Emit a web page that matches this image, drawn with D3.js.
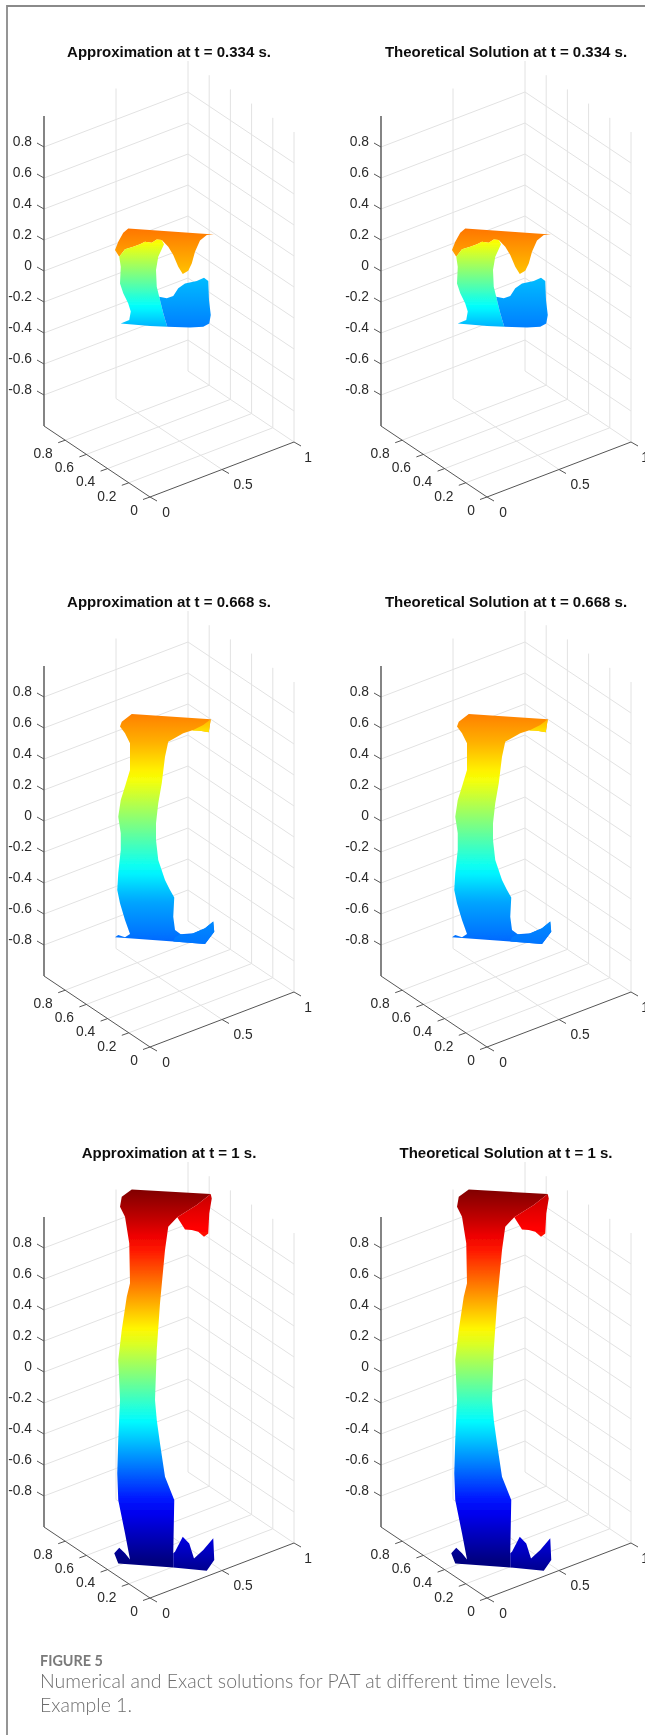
<!DOCTYPE html>
<html>
<head>
<meta charset="utf-8">
<script src="https://cdn.jsdelivr.net/npm/d3@7"></script>
<style>
  body { margin: 0; background: #fff; }
  svg { display: block; }
  text { font-family: "Liberation Sans", Arial, sans-serif; }
</style>
</head>
<body>
<svg id="chart" width="645" height="1735"></svg>
<script>
const leftTitles = ['Approximation at t = 0.334 s.', 'Approximation at t = 0.668 s.', 'Approximation at t = 1 s.'];
const rightTitles = ['Theoretical Solution at t = 0.334 s.', 'Theoretical Solution at t = 0.668 s.', 'Theoretical Solution at t = 1 s.'];
const zTicks = [-0.8, -0.6, -0.4, -0.2, 0, 0.2, 0.4, 0.6, 0.8];
const yTicks = [0, 0.2, 0.4, 0.6, 0.8];
const xTicks = [0, 0.5, 1];

// jet colormap, position on the color axis -> color
const jetPos = [0, 0.125, 0.375, 0.625, 0.875, 1];
const jetCol = ['#00007f', '#0000ff', '#00ffff', '#ffff00', '#ff0000', '#7f0000'];

// surface silhouettes: [h, z]
// h = position along the horizontal of the plot box (0..1), z = height on the z axis
const flapA = [[.337,.275],[.68,.236],[.651,.232],[.624,.196],[.604,.125],[.591,.049],[.577,.002],[.555,-.019],[.537,.028],[.517,.103],[.497,.157],[.471,.2],[.451,.204],[.431,.183],[.404,.189],[.384,.172],[.357,.157],[.324,.14],[.301,.092],[.284,.135],[.297,.189],[.317,.247]];
const flapAColor = [[.275,.76],[0,.69]];
const bodyA = [[.301,.092],[.324,.14],[.357,.157],[.384,.172],[.404,.189],[.431,.183],[.451,.204],[.471,.2],[.48,.172],[.457,.092],[.448,.006],[.451,-.101],[.464,-.187],[.477,-.273],[.493,-.359],[.424,-.355],[.307,-.338],[.341,-.316],[.347,-.262],[.337,-.209],[.317,-.144],[.304,-.08],[.307,.028]];
const bodyAColor = [[.2,.63],[-.23,.375],[-.36,.3]];
const lowA = [[.461,-.166],[.491,-.176],[.517,-.161],[.537,-.112],[.564,-.08],[.611,-.065],[.64,-.043],[.657,-.065],[.66,-.187],[.667,-.284],[.661,-.338],[.637,-.359],[.584,-.364],[.493,-.359],[.477,-.273],[.464,-.187]];
const lowAColor = [[-.04,.31],[-.36,.25]];

const bodyB = [[.351,.691],[.667,.656],[.659,.572],[.624,.583],[.597,.587],[.557,.566],[.497,.512],[.484,.415],[.471,.243],[.457,.114],[.448,-.015],[.448,-.122],[.457,-.251],[.484,-.38],[.504,-.445],[.521,-.494],[.517,-.617],[.524,-.703],[.547,-.731],[.597,-.724],[.644,-.692],[.677,-.649],[.681,-.714],[.644,-.793],[.517,-.778],[.284,-.75],[.297,-.735],[.324,-.75],[.344,-.729],[.324,-.638],[.304,-.531],[.293,-.445],[.297,-.337],[.307,-.187],[.307,-.079],[.297,.028],[.307,.136],[.324,.222],[.344,.329],[.344,.501],[.324,.566],[.304,.609],[.311,.641]];
const bodyBColor = [[.691,.75],[.501,.7],[.286,.625],[-.316,.375],[-.509,.29],[-.767,.23]];
const tipB = [[.591,.583],[.637,.62],[.667,.656],[.659,.572],[.624,.583]];
const tipBColor = [[.656,.7],[.572,.65]];
const lowB = [[.524,-.75],[.547,-.731],[.577,-.739],[.644,-.692],[.677,-.649],[.681,-.714],[.644,-.793],[.517,-.778]];
const lowBColor = [[-.65,.26],[-.79,.24]];

const bodyC = [[.351,1.178],[.667,1.148],[.611,1.077],[.533,.998],[.497,.937],[.484,.787],[.464,.443],[.451,.142],[.444,-.181],[.451,-.31],[.464,-.461],[.484,-.676],[.521,-.826],[.517,-1.17],[.517,-1.261],[.297,-1.235],[.281,-1.17],[.301,-1.134],[.324,-1.17],[.344,-1.209],[.324,-1.041],[.297,-.826],[.293,-.654],[.297,-.439],[.304,-.181],[.297,.077],[.311,.271],[.331,.486],[.344,.572],[.341,.83],[.324,1.002],[.304,1.066],[.311,1.131]];
const bodyCColor = [[1.18,1],[1,.94],[.84,.875],[.26,.625],[-.31,.375],[-.87,.125],[-1.22,0]];
const topC = [[.667,1.148],[.671,1.12],[.661,1.023],[.657,.894],[.64,.873],[.617,.905],[.591,.916],[.564,.92],[.533,.998],[.611,1.077]];
const topCColor = [[1.148,.93],[.873,.86]];
const lowC = [[.517,-1.17],[.524,-1.159],[.555,-1.063],[.581,-1.106],[.6,-1.203],[.637,-1.149],[.677,-1.073],[.681,-1.213],[.651,-1.282],[.517,-1.261]];
const lowCColor = [[-1.06,.1],[-1.28,.015]];

const rowsSurf = [
  [[flapA, flapAColor], [bodyA, bodyAColor], [lowA, lowAColor]],
  [[bodyB, bodyBColor], [tipB, tipBColor], [lowB, lowBColor]],
  [[bodyC, bodyCColor], [topC, topCColor], [lowC, lowCColor]]
];

const rowY = [0, 550, 1101];
const colX = [0, 337];

const svg = d3.select('#chart');
const defs = svg.append('defs');

// the reference is a soft upscaled image
defs.append('filter')
  .attr('id', 'soft')
  .attr('filterUnits', 'userSpaceOnUse')
  .attr('x', 0).attr('y', 0)
  .attr('width', 645).attr('height', 1735)
  .append('feGaussianBlur')
  .attr('stdDeviation', 0.4);

const root = svg.append('g').attr('filter', 'url(#soft)');

const jet = d3.scaleLinear().domain(jetPos).range(jetCol);

// plot box scales, all in panel coordinates
const hS = d3.scaleLinear().domain([0, 1]).range([44, 294]);
const zS = d3.scaleLinear().domain([-1, 1]).range([426, 116]);
const xPx = d3.scaleLinear().domain([0, 1]).range([0, 144]);
const xPy = d3.scaleLinear().domain([0, 1]).range([0, -55]);
const yPx = d3.scaleLinear().domain([0, 1]).range([0, -106]);
const yPy = d3.scaleLinear().domain([0, 1]).range([0, -71]);

function proj(x, y, z) {
  return [150 + xPx(x) + yPx(y), zS(z) + 71 + xPy(x) + yPy(y)];
}

const gridCol = '#e2e2e2';
const axisCol = '#555';

function seg(g, a, b, col, w) {
  g.append('line')
    .attr('x1', a[0]).attr('y1', a[1])
    .attr('x2', b[0]).attr('y2', b[1])
    .attr('stroke', col)
    .attr('stroke-width', w);
}

function label(g, s, x, y, anchor) {
  g.append('text')
    .attr('x', x).attr('y', y)
    .attr('dy', '0.35em')
    .attr('text-anchor', anchor)
    .attr('font-size', 13.8)
    .attr('fill', '#2a2a2a')
    .text(s);
}

function drawAxes(g) {
  // walls
  zTicks.forEach(z => {
    seg(g, proj(0, 1, z), proj(1, 1, z), gridCol, 1);
    seg(g, proj(1, 1, z), proj(1, 0, z), gridCol, 1);
  });
  [0.5, 1].forEach(x => seg(g, proj(x, 1, -1), proj(x, 1, 1), gridCol, 1));
  yTicks.forEach(y => seg(g, proj(1, y, -1), proj(1, y, 1), gridCol, 1));
  // floor
  [0.5, 1].forEach(x => seg(g, proj(x, 0, -1), proj(x, 1, -1), gridCol, 1));
  yTicks.slice(1).forEach(y => seg(g, proj(0, y, -1), proj(1, y, -1), gridCol, 1));

  // axes
  seg(g, proj(0, 1, -1), proj(0, 1, 1), '#666', 1.6);
  seg(g, proj(0, 0, -1), proj(0, 1, -1), axisCol, 1);
  seg(g, proj(0, 0, -1), proj(1, 0, -1), axisCol, 1);

  zTicks.forEach(z => {
    let p = proj(0, 1, z);
    seg(g, p, [p[0] - 7, p[1] - 4], axisCol, 1);
    label(g, z == 0 ? '0' : String(z), 32, p[1] - 6, 'end');
  });
  yTicks.forEach(y => {
    let p = proj(0, y, -1);
    seg(g, p, [p[0] - 7, p[1] + 2.5], axisCol, 1);
    label(g, String(y), p[0] + (y == 0 ? -16 : -22), p[1] + 13, 'middle');
  });
  xTicks.forEach(x => {
    let p = proj(x, 0, -1);
    seg(g, p, [p[0] + 7, p[1] + 4], axisCol, 1);
    label(g, String(x), p[0] + (x == 0 ? 16 : x == 1 ? 14 : 21), p[1] + 15, 'middle');
  });
}

// one gradient per surface piece, in panel coordinates
function addGradient(id, stops) {
  let tScale = d3.scaleLinear().domain(stops.map(d => d[0])).range(stops.map(d => d[1]));
  let z0 = stops[0][0];
  let z1 = stops[stops.length - 1][0];
  let grad = defs.append('linearGradient')
    .attr('id', id)
    .attr('gradientUnits', 'userSpaceOnUse')
    .attr('x1', 0).attr('x2', 0)
    .attr('y1', zS(z0)).attr('y2', zS(z1));
  d3.range(0, 1.001, 1 / 24).forEach(f => {
    grad.append('stop')
      .attr('offset', f)
      .attr('stop-color', jet(tScale(z0 + (z1 - z0) * f)));
  });
}

rowsSurf.forEach((pieces, r) => {
  pieces.forEach((p, k) => addGradient(`surf${r}_${k}`, p[1]));
});

const outline = d3.line()
  .x(d => hS(d[0]))
  .y(d => zS(d[1]))
  .curve(d3.curveLinearClosed);

rowY.forEach((dy, r) => {
  colX.forEach((dx, c) => {
    let g = root.append('g').attr('transform', `translate(${dx},${dy})`);
    drawAxes(g);
    g.selectAll('path.surf')
      .data(rowsSurf[r])
      .enter().append('path')
      .attr('class', 'surf')
      .attr('d', d => outline(d[0]))
      .attr('fill', (d, k) => `url(#surf${r}_${k})`);
    g.append('text')
      .attr('x', 169)
      .attr('y', 52)
      .attr('dy', '0.35em')
      .attr('text-anchor', 'middle')
      .attr('font-size', 15)
      .attr('font-weight', 'bold')
      .attr('fill', '#111')
      .text((c == 0 ? leftTitles : rightTitles)[r]);
  });
});

// page frame and caption
root.append('path')
  .attr('d', 'M7,1735V6H645')
  .attr('fill', 'none')
  .attr('stroke', '#8a8a8a')
  .attr('stroke-width', 1.8);

root.append('text')
  .attr('x', 40).attr('y', 1666)
  .attr('font-size', 14.4)
  .attr('font-weight', 'bold')
  .attr('fill', '#7a7a7a')
  .style('font-family', 'Lato')
  .text('FIGURE 5');
root.selectAll('text.cap')
  .data(['Numerical and Exact solutions for PAT at different time levels.', 'Example 1.'])
  .enter().append('text')
  .attr('class', 'cap')
  .attr('x', 40)
  .attr('y', (d, i) => 1688 + i * 24)
  .attr('font-size', 19.5)
  .attr('font-weight', 300)
  .attr('fill', '#6e6e6e')
  .style('font-family', 'Lato')
  .text(d => d);
</script>
</body>
</html>
